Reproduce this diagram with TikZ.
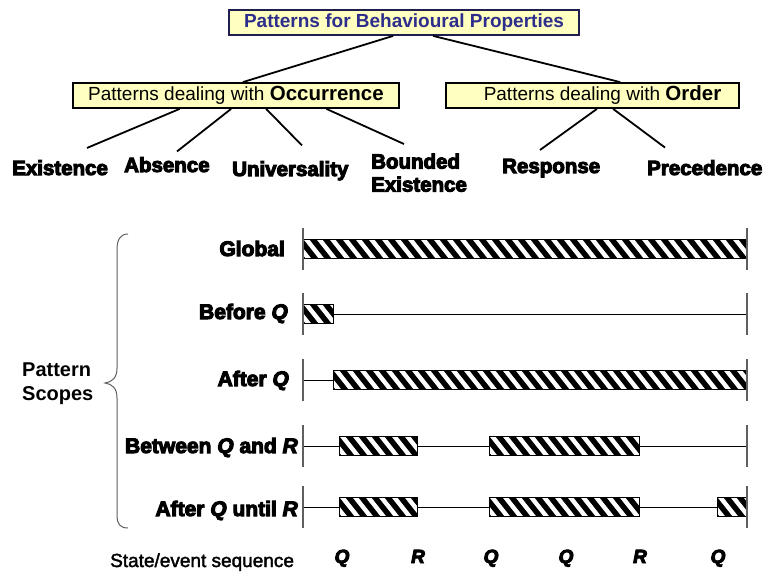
\documentclass[tikz,border=0pt]{standalone}
\usepackage{fontspec}
\setmainfont{Liberation Sans}
\newfontfamily\heavyfont[UprightFont=* Bold, ItalicFont=* Bold Italic, FakeBold=5]{Liberation Sans}
\newfontfamily\mediumfont[FakeBold=2]{Liberation Sans}
\usetikzlibrary{calc}
\definecolor{boxfill}{RGB}{255,255,192}
\definecolor{titleblue}{RGB}{45,45,140}
\definecolor{titleframe}{RGB}{30,30,80}
\definecolor{tickgray}{RGB}{95,95,95}

% hatched interval on a time line: #1 = start x, #2 = end x, #3 = centre y
\newcommand\hatchbar[3]{%
  \begin{scope}
    \clip (#1,#3-9.5) rectangle (#2,#3+9.5);
    \fill[white] (#1,#3-9.5) rectangle (#2,#3+9.5);
    \foreach \k in {0,...,36}
      \draw[line width=5.5] (#1-18+13*\k,#3-12) -- (#1-18+13*\k+19,#3+12);
  \end{scope}
  \draw[line width=0.8] (#1,#3-9.5) rectangle (#2,#3+9.5);
}
% plain time line at height #1
\newcommand\timeline[1]{%
  \draw[line width=1] (303,#1) -- (747,#1);
}
% the two end ticks of a time line at height #1
\newcommand\lineticks[1]{%
  \draw[tick] (303,#1-21) -- (303,#1+21);
  \draw[tick] (747,#1-21) -- (747,#1+21);
}

\begin{document}
\begin{tikzpicture}[x=1pt,y=-1pt,
  box/.style={draw=black, line width=1.8, fill=boxfill, inner sep=0, minimum height=25},
  titlebox/.style={box, draw=titleframe, text=titleblue,
    font=\bfseries\fontsize{19}{22}\selectfont},
  leaf/.style={inner sep=0, font=\heavyfont\fontsize{20.5}{23}\selectfont},
  scopelabel/.style={inner sep=0, anchor=base east, font=\heavyfont\fontsize{21}{23}\selectfont},
  seqletter/.style={inner sep=0, anchor=base, font=\heavyfont\itshape\fontsize{19}{22}\selectfont},
  tree/.style={line width=1.8},
  tick/.style={draw=tickgray, line width=1.4},
  bracestyle/.style={draw=tickgray, line width=1}]
\useasboundingbox (0,0) rectangle (766,571);

% ---- classification tree ----
\node[titlebox, minimum width=350] (title) at (404,22.5) {Patterns for Behavioural Properties};
\node[box, minimum width=326] (occ) at (236,95.5)
  {\fontsize{19}{22}\selectfont Patterns dealing with \textbf{\fontsize{20.5}{22}\selectfont Occurrence}};
\node[box, minimum width=293] (ord) at (592.5,95.5)
  {\hspace*{20pt}\fontsize{19}{22}\selectfont Patterns dealing with \textbf{\fontsize{20.5}{22}\selectfont Order}};

\node[leaf, anchor=base west] (ex) at (12,175) {Existence};
\node[leaf, anchor=base west] (ab) at (124,172) {Absence};
\node[leaf, anchor=base west] (un) at (232,176) {Universality};
\node[leaf, anchor=north west, align=left] (bx) at (371,153.5) {Bounded\\Existence};
\node[leaf, anchor=base west] (re) at (502,173) {Response};
\node[leaf, anchor=base west] (pr) at (647,175) {Precedence};

\draw[tree] ($(title.south west)!0.469!(title.south east)$) -- ($(occ.north west)!0.521!(occ.north east)$);
\draw[tree] ($(title.south west)!0.583!(title.south east)$) -- ($(ord.north west)!0.594!(ord.north east)$);

\draw[tree] ($(occ.south west)!0.328!(occ.south east)$) -- ($(ex.north west)+(75,-12)$);
\draw[tree] ($(occ.south west)!0.485!(occ.south east)$) -- ($(ab.north west)+(53,-5.5)$);
\draw[tree] ($(occ.south west)!0.592!(occ.south east)$) -- ($(un.north west)+(70,-15.5)$);
\draw[tree] ($(occ.south west)!0.776!(occ.south east)$) -- ($(bx.north west)+(33,-9.5)$);
\draw[tree] ($(ord.south west)!0.515!(ord.south east)$) -- ($(re.north west)+(38,-8.7)$);
\draw[tree] ($(ord.south west)!0.570!(ord.south east)$) -- ($(pr.north west)+(18,-12.4)$);

% ---- pattern scopes ----
\node[inner sep=0, anchor=north west, align=left, font=\bfseries\fontsize{20}{24}\selectfont]
  (scopes) at (22,363) {Pattern\\Scopes};
\draw[bracestyle] (128,234) .. controls (120,234) and (117,240) .. (117,250)
  -- (117,368) .. controls (117,378) and (112,382) .. (105,383)
  .. controls (112,384) and (117,388) .. (117,398)
  -- (117,515) .. controls (117,524) and (120,528) .. (128,528);

\node[scopelabel] (sglobal) at (285,256) {Global};
\node[scopelabel] (sbefore) at (288,319) {Before \textit{Q}};
\node[scopelabel] (safter) at (289,386) {After \textit{Q}};
\node[scopelabel] (sbetween) at (298,453) {Between \textit{Q} and \textit{R}};
\node[scopelabel] (suntil) at (298,516) {After \textit{Q} until \textit{R}};

% Global
\hatchbar{303}{747}{249}
\lineticks{249}
% Before Q
\timeline{314}
\hatchbar{303}{333}{314}
\lineticks{314}
% After Q
\timeline{380}
\hatchbar{333}{747}{380}
\lineticks{380}
% Between Q and R
\timeline{446}
\hatchbar{339}{417}{446}
\hatchbar{489}{639}{446}
\lineticks{446}
% After Q until R
\timeline{507}
\hatchbar{339}{417}{507}
\hatchbar{489}{639}{507}
\hatchbar{717}{747}{507}
\lineticks{507}

% ---- state/event sequence ----
\node[inner sep=0, anchor=base west, font=\mediumfont\fontsize{19}{22}\selectfont] (seq) at (110,567) {State/event sequence};
\node[seqletter] (e1) at (342,563) {Q};
\node[seqletter] (e2) at (418,563) {R};
\node[seqletter] (e3) at (491,563) {Q};
\node[seqletter] (e4) at (566,563) {Q};
\node[seqletter] (e5) at (640,563) {R};
\node[seqletter] (e6) at (718,563) {Q};
\end{tikzpicture}
\end{document}
